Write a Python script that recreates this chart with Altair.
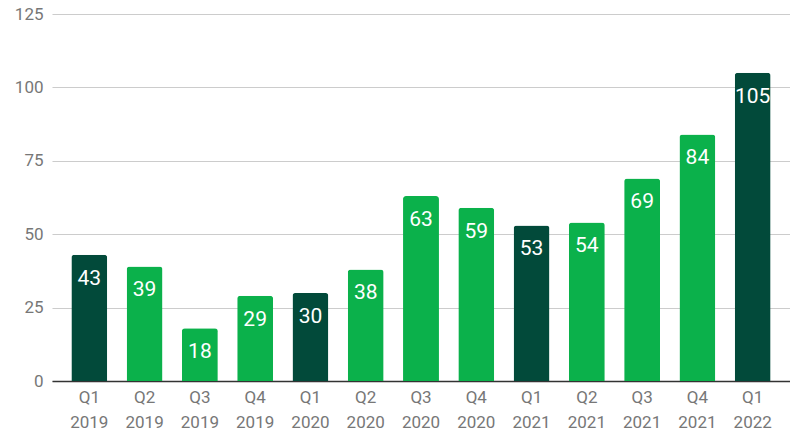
import altair as alt
import pandas as pd

quarters = ["Q1 2019", "Q2 2019", "Q3 2019", "Q4 2019",
            "Q1 2020", "Q2 2020", "Q3 2020", "Q4 2020",
            "Q1 2021", "Q2 2021", "Q3 2021", "Q4 2021",
            "Q1 2022"]
values = [43, 39, 18, 29, 30, 38, 63, 59, 53, 54, 69, 84, 105]
highlight = ["Q1", "Other", "Other", "Other",
             "Q1", "Other", "Other", "Other",
             "Q1", "Other", "Other", "Other",
             "Q1"]

df = pd.DataFrame({"quarter": quarters, "value": values, "kind": highlight})

x = alt.X("quarter:N", sort=quarters,
          scale=alt.Scale(paddingInner=0.35, paddingOuter=0.35),
          axis=alt.Axis(title=None, labelAngle=0, ticks=False,
                        labelExpr="split(datum.label, ' ')",
                        labelLineHeight=25, labelPadding=8,
                        labelFontSize=17, labelColor="#777777",
                        labelFont="Roboto", domainColor="#333333",
                        domainWidth=1.5, grid=False))

bars = alt.Chart(df).mark_bar(cornerRadiusTopLeft=3, cornerRadiusTopRight=3).encode(
    x=x,
    y=alt.Y("value:Q", scale=alt.Scale(domain=[0, 125], nice=False),
            axis=alt.Axis(title=None, values=[0, 25, 50, 75, 100, 125],
                          domain=False, ticks=False, labelPadding=9,
                          labelFontSize=17, labelColor="#777777",
                          labelFont="Roboto", gridColor="#cccccc",
                          gridWidth=1.2)),
    color=alt.Color("kind:N", scale=alt.Scale(domain=["Q1", "Other"],
                                              range=["#024a3a", "#0bb14b"]),
                    legend=None),
)

labels = alt.Chart(df).mark_text(dy=24, fontSize=21, font="Roboto",
                                 color="white", baseline="middle").encode(
    x=alt.X("quarter:N", sort=quarters),
    y="value:Q",
    text="value:Q",
)

chart = (bars + labels).properties(
    width=738, height=367,
    padding={"left": 52, "top": 14, "right": 0, "bottom": 55},
    autosize=alt.AutoSizeParams(type="none"),
).configure_view(stroke=None)

chart.save("out.html", embed_options={"renderer": "svg", "actions": False})
